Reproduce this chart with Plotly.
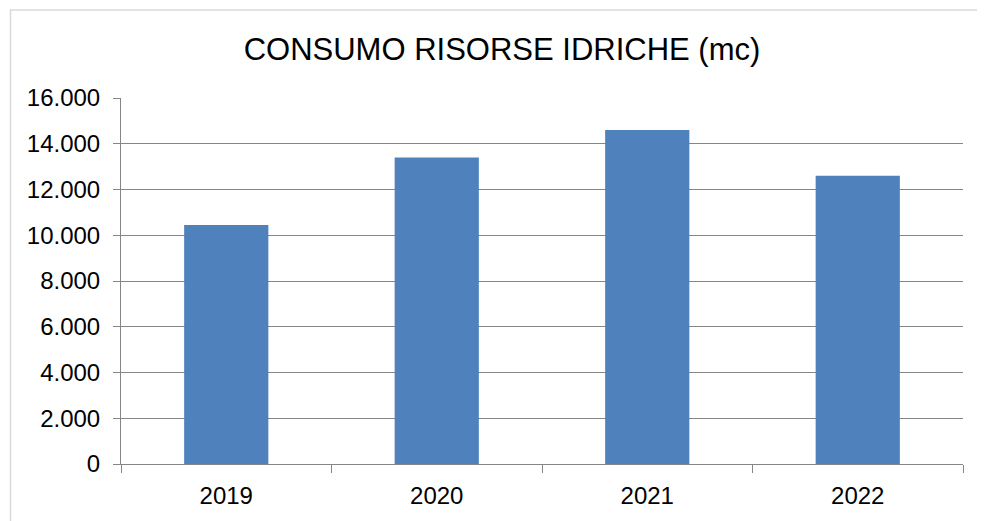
import plotly.graph_objects as go

anni = ["2019", "2020", "2021", "2022"]
consumo_mc = [10450, 13400, 14600, 12600]
y_ticks = [0, 2000, 4000, 6000, 8000, 10000, 12000, 14000, 16000]
titolo = "CONSUMO RISORSE IDRICHE (mc)"

# page body has an 8px default margin, so the figure is drawn 8px smaller
OFF = 8
W, H = 985 - OFF, 521 - OFF
L, R, T = 121 - OFF, 22, 97.5 - OFF
B = H - (466.7 - OFF)
pw, ph = W - L - R, H - T - B

fig = go.Figure(go.Bar(x=anni, y=consumo_mc, marker=dict(color="#4F81BD", line=dict(width=0)),
                       hoverinfo="x+y"))

def px2paper_x(px):
    return (px - OFF - L) / pw

def px2paper_y(py):
    return (H - B - (py - OFF)) / ph

fig.add_shape(type="rect", xref="paper", yref="paper",
              x0=px2paper_x(10.5), x1=px2paper_x(983),
              y0=px2paper_y(540), y1=px2paper_y(8.8),
              line=dict(color="#D9D9D9", width=1.5), fillcolor="rgba(0,0,0,0)", layer="below")

fig.update_layout(
    width=W, height=H,
    margin=dict(l=L, r=R, t=T, b=B, pad=0),
    paper_bgcolor="white", plot_bgcolor="white",
    separators=",.",
    bargap=0.6,
    showlegend=False,
    font=dict(family="Liberation Sans, Arial, sans-serif", color="#000000"),
    title=dict(text=titolo, x=(502 - OFF) / W, xanchor="center", y=1 - (49 - OFF) / H, yanchor="middle",
               yref="container", xref="container",
               font=dict(size=31, color="#000000", family="Liberation Sans, Arial, sans-serif")),
    xaxis=dict(type="category", tickson="boundaries", ticks="outside", ticklen=8,
               tickcolor="#868686", tickwidth=1, showline=True, linecolor="#868686", linewidth=1,
               tickfont=dict(size=24), showgrid=False, ticklabelstandoff=10),
    yaxis=dict(range=[0, 16000], tickvals=y_ticks, tickformat=",d", ticks="outside", ticklen=7,
               tickcolor="#868686", tickwidth=1, showline=True, linecolor="#868686", linewidth=1,
               showgrid=True, gridcolor="#868686", gridwidth=1, zeroline=False,
               tickfont=dict(size=24), ticklabelstandoff=8),
)

fig.write_html("out.html")
